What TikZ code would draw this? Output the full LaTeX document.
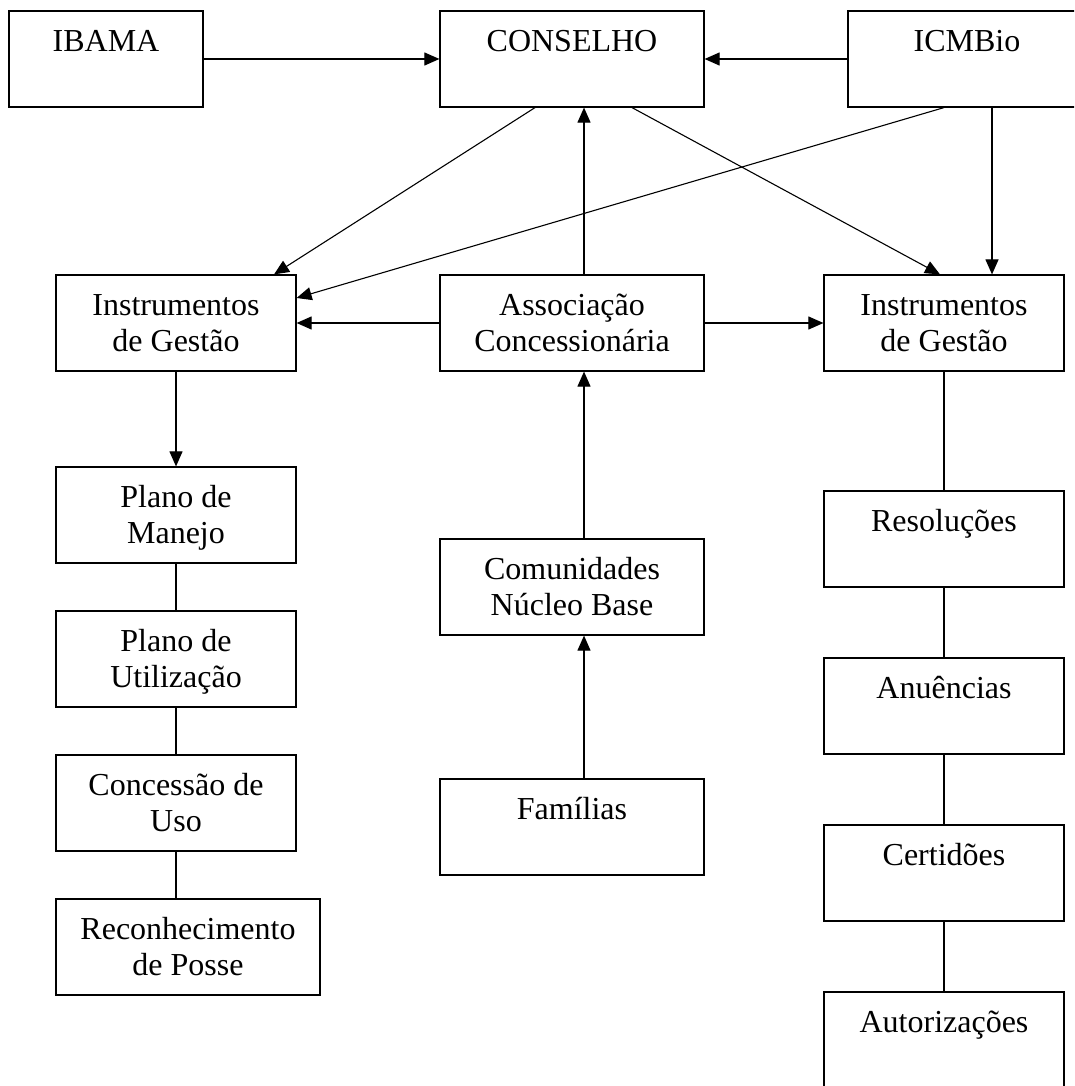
\documentclass[tikz,border=0pt]{standalone}
\usepackage{fontspec}
\setmainfont{Liberation Serif}
\usetikzlibrary{arrows.meta,calc}
\begin{document}
\begin{tikzpicture}[x=1pt,y=-1pt,
  box/.style={draw, line width=1.2pt, rectangle, inner sep=0pt, minimum height=96pt},
  narrowbox/.style={box, minimum width=240pt},
  widebox/.style={box, minimum width=264pt},
  txt/.style={inner sep=0pt, align=center, anchor=north, font=\fontsize{32}{36.8}\selectfont},
  conn/.style={line width=1.1pt},
  arr/.style={conn, -{Triangle[length=15pt,width=13pt]}}]
\useasboundingbox (0,0) rectangle (1074,1086);
\clip (0,0) rectangle (1074,1086);
\fill[white] (0,0) rectangle (1074,1086);
% boxes
\node[box, minimum width=194pt] (ibama) at (106,59) {};
\node[widebox] (conselho) at (572,59) {};
\node[box, minimum width=238pt] (icmbio) at (967,59) {};
\node[narrowbox] (instrL) at (176,323) {};
\node[widebox] (assoc) at (572,323) {};
\node[narrowbox] (instrR) at (944,323) {};
\node[narrowbox] (manejo) at (176,515) {};
\node[narrowbox] (utiliz) at (176,659) {};
\node[narrowbox] (concessao) at (176,803) {};
\node[widebox] (reconh) at (188,947) {};
\node[widebox] (comun) at (572,587) {};
\node[widebox] (familias) at (572,827) {};
\node[narrowbox] (resol) at (944,539) {};
\node[narrowbox] (anuen) at (944,706) {};
\node[narrowbox] (certid) at (944,873) {};
\node[narrowbox] (autoriz) at (944,1040) {};
% texts
\node[txt] (t-ibama) at ([yshift=-14.7pt]ibama.north) {\strut IBAMA};
\node[txt] (t-conselho) at ([yshift=-14.7pt]conselho.north) {\strut CONSELHO};
\node[txt] (t-icmbio) at ([yshift=-14.7pt]icmbio.north) {\strut ICMBio};
\node[txt] (t-instrL) at ([yshift=-14.7pt]instrL.north) {\strut Instrumentos\\de Gestão};
\node[txt] (t-assoc) at ([yshift=-14.7pt]assoc.north) {\strut Associação\\Concessionária};
\node[txt] (t-instrR) at ([yshift=-14.7pt]instrR.north) {\strut Instrumentos\\de Gestão};
\node[txt] (t-manejo) at ([yshift=-14.7pt]manejo.north) {\strut Plano de\\Manejo};
\node[txt] (t-utiliz) at ([yshift=-14.7pt]utiliz.north) {\strut Plano de\\Utilização};
\node[txt] (t-concessao) at ([yshift=-14.7pt]concessao.north) {\strut Concessão de\\Uso};
\node[txt] (t-reconh) at ([yshift=-14.7pt]reconh.north) {\strut Reconhecimento\\de Posse};
\node[txt] (t-comun) at ([yshift=-14.7pt]comun.north) {\strut Comunidades\\Núcleo Base};
\node[txt] (t-familias) at ([yshift=-14.7pt]familias.north) {\strut Famílias};
\node[txt] (t-resol) at ([yshift=-14.7pt]resol.north) {\strut Resoluções};
\node[txt] (t-anuen) at ([yshift=-14.7pt]anuen.north) {\strut Anuências};
\node[txt] (t-certid) at ([yshift=-14.7pt]certid.north) {\strut Certidões};
\node[txt] (t-autoriz) at ([yshift=-14.7pt]autoriz.north) {\strut Autorizações};
% connectors
\draw[arr] (ibama.east) -- (conselho.west);
\draw[arr] (icmbio.west) -- (conselho.east);
\draw[arr] ([xshift=-37pt]conselho.south) -- ([xshift=98pt]instrL.north);
\draw[arr] ([xshift=-23pt]icmbio.south) -- ([yshift=25pt]instrL.east);
\draw[arr] ([xshift=60pt]conselho.south) -- ([xshift=-4pt]instrR.north);
\draw[arr] ([xshift=25pt]icmbio.south) -- ([xshift=48pt]instrR.north);
\draw[arr] ([xshift=12pt]assoc.north) -- ([xshift=12pt]conselho.south);
\draw[arr] (assoc.west) -- (instrL.east);
\draw[arr] (assoc.east) -- (instrR.west);
\draw[arr] ([xshift=12pt]comun.north) -- ([xshift=12pt]assoc.south);
\draw[arr] ([xshift=12pt]familias.north) -- ([xshift=12pt]comun.south);
\draw[arr] (instrL.south) -- (manejo.north);
\draw[conn] (manejo.south) -- (utiliz.north);
\draw[conn] (utiliz.south) -- (concessao.north);
\draw[conn] (concessao.south) -- (concessao.south |- reconh.north);
\draw[conn] (instrR.south) -- (resol.north);
\draw[conn] (resol.south) -- (anuen.north);
\draw[conn] (anuen.south) -- (certid.north);
\draw[conn] (certid.south) -- (autoriz.north);
\end{tikzpicture}
\end{document}
